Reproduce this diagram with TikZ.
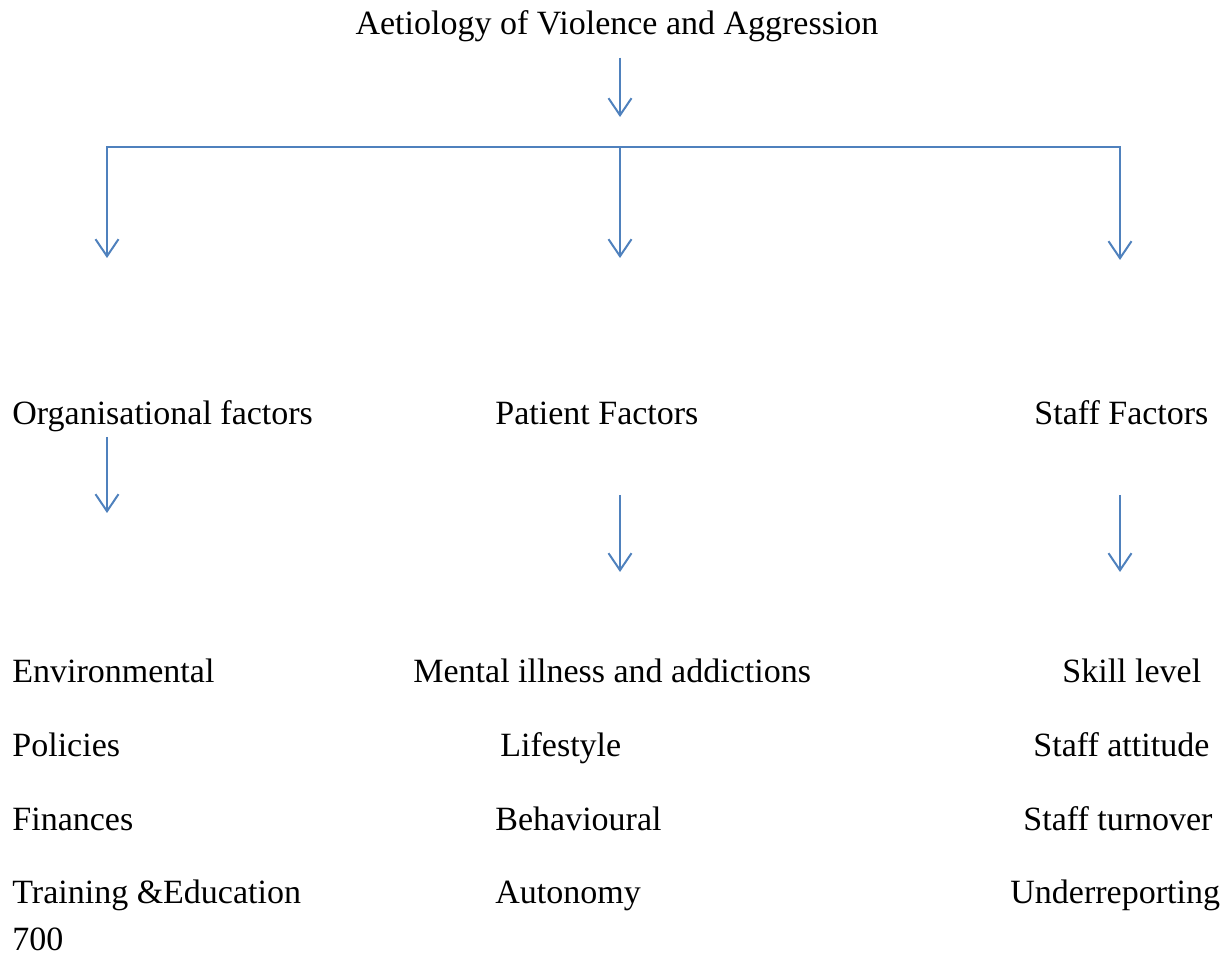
\documentclass[tikz,border=0pt]{standalone}
\usepackage{fontspec}
\setmainfont{Liberation Serif}
\usepackage{xcolor}
\usepackage{tikz}
\usetikzlibrary{arrows.meta}
\definecolor{bluex}{HTML}{4F81BD}
\tikzset{
  ar/.style={-{Straight Barb[length=8.5pt,width=11.5pt]},line width=1pt,bluex},
  txt/.style={font=\fontsize{17}{20}\selectfont,inner sep=0pt,anchor=base west}
}
\begin{document}
\begin{tikzpicture}[x=0.5pt,y=-0.5pt]
\useasboundingbox (0,0) rectangle (1227,956);
\node[txt,anchor=base] (top) at (617,35) {Aetiology of Violence and Aggression};
% bracket
\coordinate (tipt) at (620,117);
\coordinate (bl) at (107,147);
\coordinate (bm) at (620,147);
\coordinate (br) at (1120,147);
\coordinate (dl) at (107,258);
\coordinate (dm) at (620,258);
\coordinate (dr) at (1120,260);
\draw[ar,shorten <=7.5pt] (top.south -| tipt) -- (tipt);
\draw[ar] (bm) -- (bl) -- (dl);
\draw[ar] (bm) -- (br) -- (dr);
\draw[ar] (bm) -- (dm);
% factors
\node[txt] (org) at (12,425) {Organisational factors};
\node[txt] (pat) at (495,425) {Patient Factors};
\node[txt] (stf) at (1034,425) {Staff Factors};
\coordinate (os) at (107,437); \coordinate (oe) at (107,513);
\coordinate (ps) at (620,495); \coordinate (pe) at (620,572);
\coordinate (ss) at (1120,495); \coordinate (se) at (1120,572);
\draw[ar] (os) -- (oe);
\draw[ar] (ps) -- (pe);
\draw[ar] (ss) -- (se);
% lists
\node[txt] (o1) at (12,683) {Environmental};
\node[txt] (o2) at (12,757) {Policies};
\node[txt] (o3) at (12,830) {Finances};
\node[txt] (o4) at (12,903) {Training \&Education};
\node[txt] (p1) at (413,683) {Mental illness and addictions};
\node[txt] (p2) at (500,757) {Lifestyle};
\node[txt] (p3) at (495,830) {Behavioural};
\node[txt] (p4) at (495,903) {Autonomy};
\node[txt] (s1) at (1062,683) {Skill level};
\node[txt] (s2) at (1033,757) {Staff attitude};
\node[txt] (s3) at (1023,830) {Staff turnover};
\node[txt] (s4) at (1010,903) {Underreporting};
\node[txt] (pg) at (12,950) {700};
\end{tikzpicture}
\end{document}
